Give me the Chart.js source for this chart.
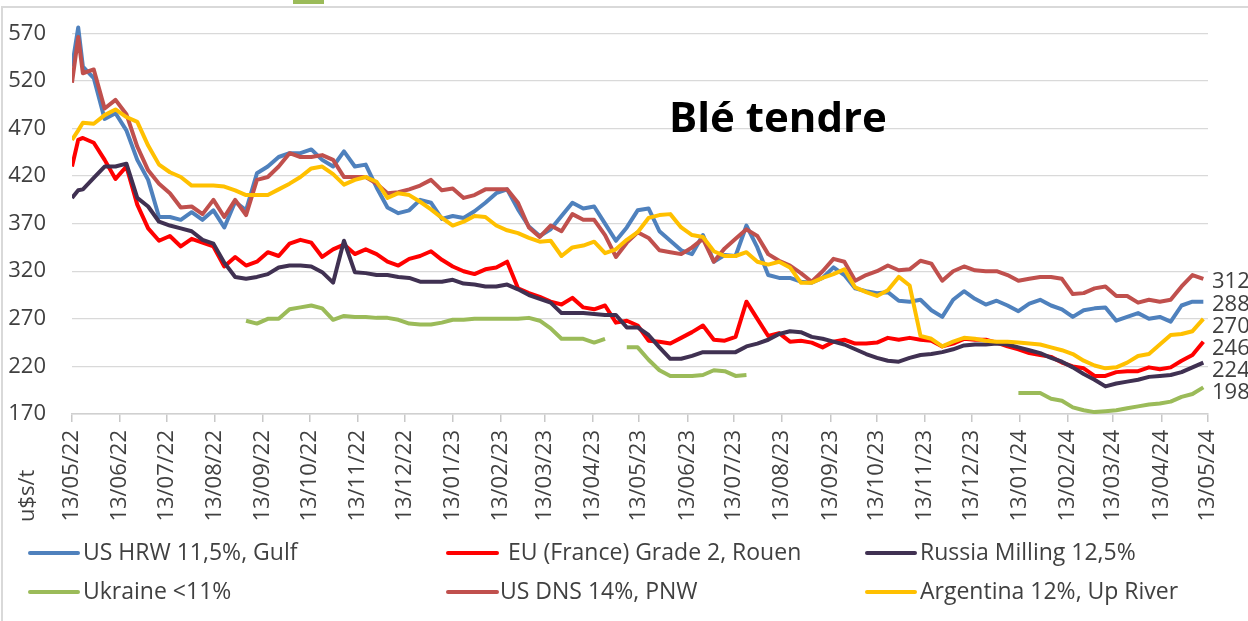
<!DOCTYPE html>
<html>
<head>
<meta charset="utf-8">
<title>Blé tendre</title>
<script src="https://cdn.jsdelivr.net/npm/chart.js@4.4.1/dist/chart.umd.min.js"></script>
<style>
  html, body { margin: 0; padding: 0; background: #fff; }
  #wrap { position: relative; width: 1248px; height: 621px; overflow: hidden; }
  #frame { position: absolute; left: 1px; top: 6px; width: 1260px; height: 640px;
           border-left: 2px solid #d9d9d9; border-top: 2px solid #d9d9d9; }
  #stub { position: absolute; left: 293px; top: 0; width: 31px; height: 4px; background: #9bbb59; }
  canvas { position: absolute; left: 0; top: 0; }
</style>
</head>
<body>
<div id="wrap">
  <div id="frame"></div>
  <div id="stub"></div>
  <canvas id="priceChart" width="1248" height="621"></canvas>
</div>
<script>
// jours depuis le 13/05/22 (relevés hebdomadaires)
const days = [0, 4, 7, 14, 21, 28, 35, 42, 49, 56, 63, 70,
  77, 84, 91, 98, 105, 112, 119, 126, 133, 140,
  147, 154, 161, 168, 175, 182, 189, 196, 203, 210,
  217, 224, 231, 238, 245, 252, 259, 266, 273, 280,
  287, 294, 301, 308, 315, 322, 329, 336, 343, 350,
  357, 364, 371, 378, 385, 392, 399, 406, 413, 420,
  427, 434, 441, 448, 455, 462, 469, 476, 483, 490,
  497, 504, 511, 518, 525, 532, 539, 546, 553, 560,
  567, 574, 581, 588, 595, 602, 609, 616, 623, 630,
  637, 644, 651, 658, 665, 672, 679, 686, 693, 700,
  707, 714, 721, 728];

const usHrw = [535, 576, 535, 523, 480, 486, 468, 437, 416, 377, 377, 374,
  382, 374, 384, 366, 393, 384, 423, 430, 440, 444,
  444, 448, 437, 430, 446, 430, 432, 408, 387, 381,
  384, 395, 392, 375, 378, 376, 383, 392, 402, 406,
  385, 367, 357, 364, 378, 392, 386, 388, 370, 352,
  366, 384, 386, 362, 352, 342, 338, 358, 330, 337,
  336, 368, 345, 316, 313, 313, 309, 308, 313, 324,
  316, 302, 299, 297, 298, 289, 288, 290, 279, 272,
  290, 299, 291, 285, 289, 284, 278, 286, 290, 284,
  280, 272, 279, 281, 282, 268, 272, 276, 270, 272,
  267, 284, 288, 288];

const euFrance = [430, 458, 460, 455, 437, 417, 430, 390, 365, 352, 357, 346,
  354, 350, 346, 325, 335, 326, 330, 340, 336, 349,
  353, 350, 335, 343, 348, 338, 343, 338, 330, 326,
  333, 336, 341, 332, 325, 320, 317, 322, 324, 330,
  302, 297, 293, 288, 285, 292, 282, 280, 284, 266,
  268, 263, 247, 246, 244, 250, 256, 263, 248, 247,
  251, 288, 270, 252, 255, 246, 247, 245, 240, 246,
  248, 244, 244, 245, 250, 248, 250, 248, 247, 241,
  244, 249, 248, 248, 245, 241, 238, 234, 232, 230,
  224, 220, 218, 210, 210, 214, 215, 215, 219, 217,
  219, 226, 232, 246];

const russia = [397, 405, 406, 418, 430, 430, 433, 397, 388, 372, 368, 365,
  362, 353, 349, 329, 314, 312, 314, 317, 324, 326,
  326, 325, 319, 308, 352, 319, 318, 316, 316, 314,
  313, 309, 309, 309, 311, 307, 306, 304, 304, 306,
  301, 295, 291, 287, 276, 276, 276, 275, 274, 274,
  261, 261, 253, 240, 228, 228, 231, 235, 235, 235,
  235, 241, 244, 248, 254, 257, 256, 251, 249, 246,
  243, 238, 233, 229, 226, 225, 229, 232, 233, 235,
  238, 242, 243, 243, 244, 243, 240, 237, 234, 229,
  225, 219, 212, 206, 199, 202, 204, 206, 209, 210,
  211, 214, 219, 224];

const ukraine = [null, null, null, null, null, null, null, null, null, null, null, null,
  null, null, null, null, null, 268, 265, 270, 270, 280,
  282, 284, 281, 269, 273, 272, 272, 271, 271, 269,
  265, 264, 264, 266, 269, 269, 270, 270, 270, 270,
  270, 271, 268, 260, 249, 249, 249, 245, 249, null,
  240, 240, 227, 216, 210, 210, 210, 211, 216, 215,
  210, 211, null, null, null, null, null, null, null, null,
  null, null, null, null, null, null, null, null, null, null,
  null, null, null, null, null, null, 192, 192, 192, 186,
  184, 177, 174, 172, 173, 174, 176, 178, 180, 181,
  183, 188, 191, 198];

const usDns = [518, 566, 528, 532, 491, 500, 485, 451, 426, 412, 402, 387,
  388, 380, 395, 377, 395, 379, 416, 419, 430, 444,
  440, 440, 442, 437, 419, 419, 419, 412, 402, 403,
  406, 410, 416, 405, 407, 397, 400, 406, 406, 406,
  392, 366, 356, 368, 362, 380, 374, 374, 358, 335,
  350, 361, 355, 342, 340, 338, 345, 354, 330, 344,
  354, 364, 357, 338, 331, 326, 318, 309, 320, 333,
  330, 310, 316, 320, 326, 321, 322, 331, 328, 310,
  320, 325, 321, 320, 320, 316, 310, 312, 314, 314,
  312, 296, 297, 302, 304, 294, 294, 287, 290, 288,
  290, 304, 316, 312];

const argentina = [458, 468, 476, 475, 484, 490, 482, 477, 452, 432, 424, 419,
  410, 410, 410, 409, 405, 400, 400, 400, 406, 412,
  419, 428, 430, 422, 411, 416, 419, 414, 397, 402,
  400, 393, 385, 376, 368, 372, 378, 377, 368, 363,
  360, 355, 351, 352, 336, 345, 347, 351, 339, 343,
  353, 361, 376, 379, 380, 366, 358, 356, 341, 336,
  336, 340, 330, 327, 330, 324, 308, 308, 313, 317,
  322, 303, 298, 294, 300, 314, 305, 252, 249, 241,
  246, 250, 249, 247, 246, 246, 245, 244, 243, 240,
  237, 233, 226, 221, 218, 219, 224, 231, 233, 243,
  253, 254, 257, 270];

const seriesNames = ["US HRW 11,5%, Gulf", "EU (France) Grade 2, Rouen", "Russia Milling 12,5%",
  "Ukraine <11%", "US DNS 14%, PNW", "Argentina 12%, Up River"];
const seriesValues = [usHrw, euFrance, russia, ukraine, usDns, argentina];

const tickDays = [0, 31, 61, 92, 123, 153, 184, 214, 245, 276, 304, 335, 365,
  396, 426, 457, 488, 518, 549, 579, 610, 641, 670, 701, 731];
const tickLabels = ["13/05/22", "13/06/22", "13/07/22", "13/08/22", "13/09/22", "13/10/22",
  "13/11/22", "13/12/22", "13/01/23", "13/02/23", "13/03/23", "13/04/23", "13/05/23",
  "13/06/23", "13/07/23", "13/08/23", "13/09/23", "13/10/23", "13/11/23", "13/12/23",
  "13/01/24", "13/02/24", "13/03/24", "13/04/24", "13/05/24"];
const yTicks = [170, 220, 270, 320, 370, 420, 470, 520, 570];

const colors = ["#4f81bd", "#ff0000", "#403152", "#9bbb59", "#c0504d", "#ffc000"];
const FONT = '"Open Sans", Lato, sans-serif';
const TEXT = "#404040";

// titre, unité, étiquettes de fin et légende dessinés à la main
const overlay = {
  id: "overlay",
  afterDatasetsDraw(chart) {
    const ctx = chart.ctx;
    const ends = [];
    chart.data.datasets.forEach((ds, i) => {
      const meta = chart.getDatasetMeta(i);
      let j = ds.data.length - 1;
      while (j >= 0 && ds.data[j].y == null) j--;
      if (j < 0) return;
      ends.push({ y: meta.data[j].y + 3, text: String(ds.data[j].y) });
    });
    ends.sort((a, b) => a.y - b.y);
    for (let k = 1; k < ends.length; k++) {
      if (ends[k].y < ends[k - 1].y + 22) ends[k].y = ends[k - 1].y + 22;
    }
    ctx.save();
    ctx.font = "22px " + FONT;
    ctx.fillStyle = TEXT;
    ctx.textAlign = "left";
    ctx.textBaseline = "middle";
    ends.forEach(e => ctx.fillText(e.text, chart.chartArea.right + 4, e.y));
    ctx.restore();
  },
  afterDraw(chart) {
    const ctx = chart.ctx;
    ctx.save();
    ctx.fillStyle = "#000";
    ctx.font = "bold 42px " + FONT;
    ctx.textAlign = "center";
    ctx.textBaseline = "alphabetic";
    ctx.fillText("Blé tendre", 778, 132);

    ctx.fillStyle = TEXT;
    ctx.font = "22px " + FONT;
    ctx.textBaseline = "middle";
    ctx.save();
    ctx.translate(28, 522);
    ctx.rotate(-Math.PI / 2);
    ctx.textAlign = "left";
    ctx.fillText("u$s/t", 0, 0);
    ctx.restore();

    ctx.font = "23px " + FONT;
    const swX = [30, 448, 867], swLen = [48, 49, 48];
    const txtX = [83, 508, 920, 83, 500, 920];
    const rowY = [553, 592];
    chart.data.datasets.forEach((ds, i) => {
      const col = i % 3, row = Math.floor(i / 3);
      ctx.strokeStyle = ds.borderColor;
      ctx.lineWidth = 4;
      ctx.lineCap = "round";
      ctx.beginPath();
      ctx.moveTo(swX[col], rowY[row]);
      ctx.lineTo(swX[col] + swLen[col], rowY[row]);
      ctx.stroke();
      ctx.textAlign = "left";
      ctx.fillText(ds.label, txtX[i], rowY[row]);
    });
    ctx.restore();
  }
};

new Chart(document.getElementById("priceChart"), {
  type: "line",
  data: {
    datasets: seriesNames.map((name, i) => ({
      label: name,
      data: days.map((d, j) => ({ x: d, y: seriesValues[i][j] })),
      borderColor: colors[i],
      backgroundColor: colors[i],
      borderWidth: 4,
      borderJoinStyle: "round",
      pointRadius: 0,
      tension: 0,
      spanGaps: false,
      order: 5 - i
    }))
  },
  options: {
    responsive: false,
    animation: false,
    layout: { padding: { left: 0, right: 40, top: 19, bottom: 0 } },
    plugins: { legend: { display: false }, tooltip: { enabled: false } },
    scales: {
      x: {
        type: "linear",
        min: 0,
        max: 731,
        afterBuildTicks: s => { s.ticks = tickDays.map(v => ({ value: v })); },
        afterFit: s => { s.height = 207; },
        grid: { drawOnChartArea: false, tickLength: 8, color: "#c8c8c8", lineWidth: 1.5 },
        border: { color: "#d0d0d0", width: 1.5 },
        ticks: {
          autoSkip: false, minRotation: 90, maxRotation: 90, padding: 8,
          color: TEXT, font: { family: FONT, size: 22 },
          callback: v => tickLabels[tickDays.indexOf(v)]
        }
      },
      y: {
        min: 170,
        max: 585,
        afterBuildTicks: s => { s.ticks = yTicks.map(v => ({ value: v })); },
        afterFit: s => { s.width = 72; },
        grid: { color: "#d9d9d9", lineWidth: 1.3, drawTicks: true, tickLength: 26, tickColor: "rgba(0,0,0,0)" },
        border: { display: false },
        ticks: { padding: 0, color: TEXT, font: { family: FONT, size: 22 } }
      }
    }
  },
  plugins: [overlay]
});
</script>
</body>
</html>
